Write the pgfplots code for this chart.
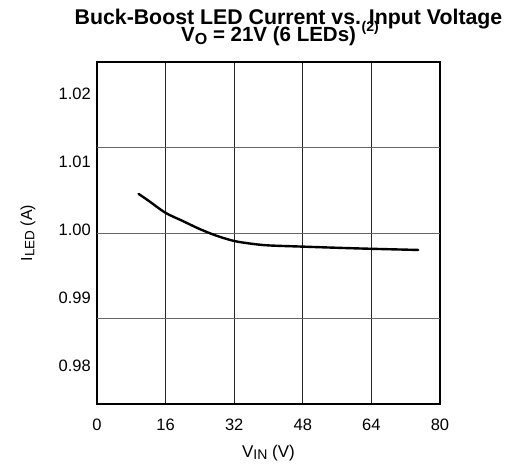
\documentclass[border=0pt]{standalone}
\usepackage{fontspec}
\setmainfont{Liberation Sans}
\usepackage{pgfplots}
\pgfplotsset{compat=1.18}
\begin{document}
\begin{tikzpicture}
\path[use as bounding box] (0,0) rectangle (509pt,464pt);
\begin{axis}[
  at={(97pt,60pt)}, anchor=south west,
  scale only axis, width=343pt, height=342pt,
  xmin=0, xmax=80, ymin=0.97431, ymax=1.02475,
  xtick={0,16,32,48,64,80},
  ytick={0.98,0.99,1.00,1.01,1.02},
  yticklabels={0.98,0.99,1.00,1.01,1.02},
  major tick length=0pt,
  xmajorgrids=true, ymajorgrids=false,
  x grid style={black!85, line width=0.7pt},
  extra y ticks={0.98692,0.99953,1.01214},
  extra y tick labels={},
  extra y tick style={grid=major, major grid style={black!60, line width=0.9pt}},
  axis line style={black, line width=1.4pt},
  /pgf/number format/assume math mode=true,
  ticklabel style={font=\fontsize{16.5}{18}\selectfont},
  xticklabel style={anchor=base, yshift=-26pt, inner sep=0pt},
  yticklabel style={anchor=east, xshift=-6pt, inner sep=0pt},
  xlabel={V\raisebox{-0.25ex}{\fontsize{14}{15}\selectfont IN} (V)},
  xlabel style={at={(rel axis cs:0.5,0)}, anchor=base, yshift=-53pt, font=\fontsize{17}{18}\selectfont},
  ylabel={I\raisebox{-0.25ex}{\fontsize{13.5}{15}\selectfont LED} (A)},
  ylabel style={at={(rel axis cs:0,0.5)}, anchor=center, yshift=69pt, font=\fontsize{16}{18}\selectfont},
  clip=false,
]
\addplot[black, line width=2.4pt, smooth, line cap=round] coordinates {
  (9.7,1.0053) (12,1.0043) (16,1.0025) (20,1.0013) (24,1.0001) (28,0.9991)
  (32,0.99835) (36,0.99795) (40,0.99770) (48,0.99752) (56,0.99735)
  (64,0.99720) (74.9,0.99703)
};
\end{axis}
\node[anchor=base, inner sep=0pt, font=\bfseries\fontsize{21.3}{22}\selectfont] at (288.5pt,439pt) {Buck-Boost LED Current vs. Input Voltage};
\node[anchor=base, inner sep=0pt, font=\bfseries\fontsize{20.5}{22}\selectfont] at (280pt,422.3pt) {V\raisebox{-0.3ex}{\fontsize{16}{17}\selectfont O} = 21V (6 LEDs) \raisebox{0.9ex}{\fontsize{14}{15}\selectfont (2)}};
\end{tikzpicture}
\end{document}
